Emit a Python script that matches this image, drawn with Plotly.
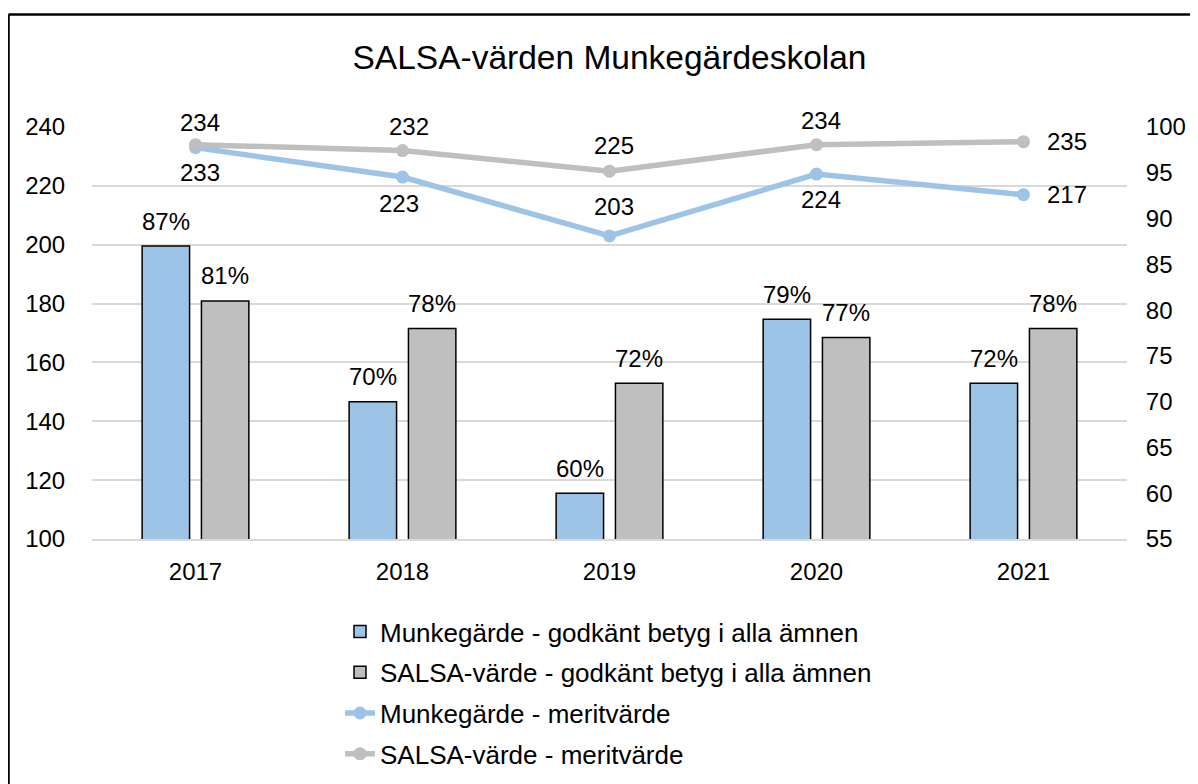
import plotly.graph_objects as go

years = ["2017", "2018", "2019", "2020", "2021"]
munk_godkant = [87, 70, 60, 79, 72]
salsa_godkant = [81, 78, 72, 77, 78]
munk_merit = [233, 223, 203, 224, 217]
salsa_merit = [234, 232, 225, 234, 235]

blue = "#9DC3E6"
grey = "#BFBFBF"
font = "Liberation Sans, Arial, sans-serif"

# page body has an 8px margin, so figure coords = screen coords - 8
W, H = 1190, 776
L, R, T, B = 84, 1119, 119, 531

fig = go.Figure()
fig.add_trace(go.Bar(
    x=years, y=munk_godkant, name="Munkegärde - godkänt betyg i alla ämnen",
    marker=dict(color=blue, line=dict(color="black", width=1.5)),
    yaxis="y", legendgroup="a"))
fig.add_trace(go.Bar(
    x=years, y=salsa_godkant, name="SALSA-värde - godkänt betyg i alla ämnen",
    marker=dict(color=grey, line=dict(color="black", width=1.5)),
    yaxis="y", legendgroup="b"))
fig.add_trace(go.Scatter(
    x=years, y=munk_merit, name="Munkegärde - meritvärde",
    mode="lines+markers", line=dict(color=blue, width=5.5),
    marker=dict(size=13, color=blue),
    yaxis="y2", cliponaxis=False, legendgroup="c"))
fig.add_trace(go.Scatter(
    x=years, y=salsa_merit, name="SALSA-värde - meritvärde",
    mode="lines+markers", line=dict(color=grey, width=5.5),
    marker=dict(size=13, color=grey),
    yaxis="y2", cliponaxis=False, legendgroup="d"))

annotations = []
# bar value labels (x given as category index)
for vals, dx in ((munk_godkant, -29.5), (salsa_godkant, 29.5)):
    for i, v in enumerate(vals):
        annotations.append(dict(
            x=i, y=v, xref="x", yref="y", text=f"{v}%", showarrow=False,
            xanchor="center", yanchor="middle", xshift=dx, yshift=25,
            font=dict(size=24, color="black", family=font)))

# line value labels (offset direction per point)
munk_pos = [(4, -25), (-4, -26), (4, 29), (4, -25), (43, 0)]
salsa_pos = [(4, 22), (6, 24), (4, 26), (4, 24), (43, 0)]
for vals, pos in ((munk_merit, munk_pos), (salsa_merit, salsa_pos)):
    for i, (v, (dx, dy)) in enumerate(zip(vals, pos)):
        annotations.append(dict(
            x=i, y=v, xref="x", yref="y2", text=str(v), showarrow=False,
            xanchor="center", yanchor="middle", xshift=dx, yshift=dy,
            font=dict(size=24, color="black", family=font)))


def px(x):
    return (x - L) / (R - L)


def py(y):
    return (B - y) / (B - T)


fig.update_layout(
    width=W, height=H,
    margin=dict(l=L, r=W - R, t=T, b=H - B, autoexpand=False),
    paper_bgcolor="white", plot_bgcolor="white",
    font=dict(family=font, size=24, color="black"),
    title=dict(text="SALSA-värden Munkegärdeskolan", x=0.5, xref="paper",
               xanchor="center", y=1 - 49 / H, yanchor="middle",
               font=dict(size=33.5, color="black", family=font)),
    barmode="group", bargap=0.427, bargroupgap=0.2,
    xaxis=dict(type="category", range=[-0.5, len(years) - 0.5],
               showgrid=False, showline=True,
               linecolor="#D9D9D9", linewidth=1.5,
               tickfont=dict(size=24), ticks="outside", ticklen=10,
               tickcolor="rgba(0,0,0,0)"),
    yaxis=dict(side="right", range=[55, 100], dtick=5, showgrid=False,
               zeroline=False, tickfont=dict(size=24),
               ticks="outside", ticklen=13, tickcolor="rgba(0,0,0,0)"),
    yaxis2=dict(side="left", overlaying="y", range=[100, 240], dtick=20,
                showgrid=True, gridcolor="#D9D9D9", gridwidth=1.5,
                zeroline=False, tickfont=dict(size=24),
                ticks="outside", ticklen=21, tickcolor="rgba(0,0,0,0)"),
    legend=dict(orientation="v", x=px(332), xanchor="left",
                y=py(600), yanchor="top", font=dict(size=26),
                tracegroupgap=4, traceorder="grouped",
                bgcolor="rgba(0,0,0,0)"),
    showlegend=True,
    annotations=annotations,
    shapes=[
        dict(type="line", xref="paper", yref="paper",
             x0=px(0.5), x1=px(1190), y0=py(6.5), y1=py(6.5),
             line=dict(color="black", width=2.5)),
        dict(type="line", xref="paper", yref="paper",
             x0=px(0.5), x1=px(0.5), y0=py(6.5), y1=py(776),
             line=dict(color="black", width=2.5)),
    ],
)

fig.write_html("out.html")
